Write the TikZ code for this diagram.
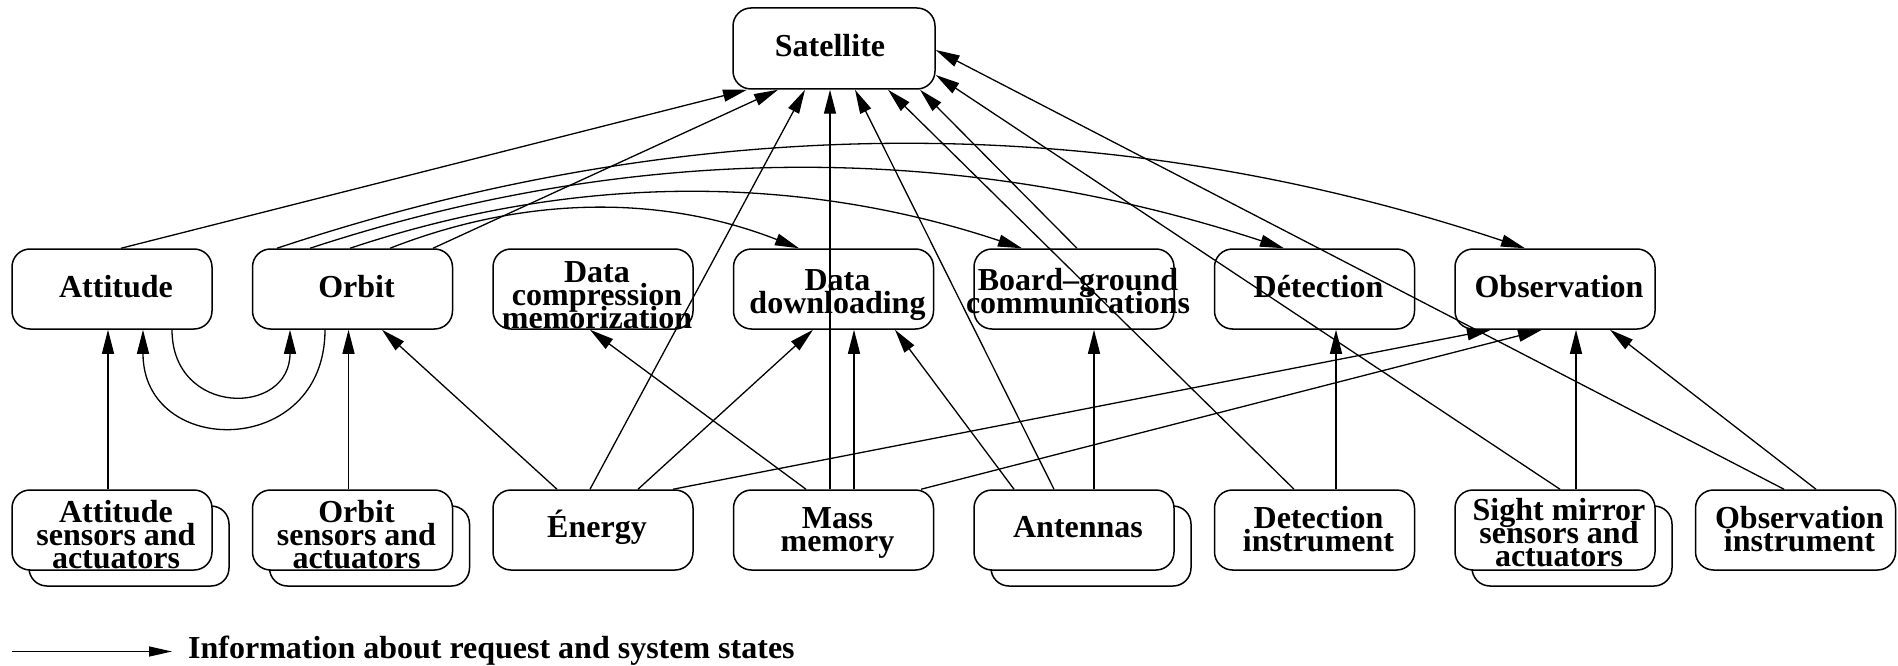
\documentclass[tikz,border=0pt]{standalone}
\usepackage{fontspec}
\setmainfont{Liberation Serif}
\usetikzlibrary{arrows.meta}
\newcommand\lns[1]{\vtop{\baselineskip=23pt\lineskiplimit=-1000pt\halign{\hfil##\hfil\cr#1\crcr}}}
\tikzset{
  box/.style={draw, fill=white, line width=1.5pt, rounded corners=18pt, minimum width=200pt, minimum height=80pt, inner sep=0pt},
  shadowbox/.style={box},
  txt/.style={anchor=base, inner sep=0pt, font=\fontsize{32}{23}\selectfont\bfseries},
  edge/.style={line width=1.3pt, -{Triangle[length=24pt,width=12pt]}},
  legarrow/.style={line width=1.3pt, -{Triangle[length=23pt,width=10pt]}}
}
\begin{document}
\begin{tikzpicture}[x=1pt,y=-1pt]
\useasboundingbox (0,0) rectangle (1898,666);
% top
\node[box, minimum width=202pt, minimum height=81pt] (sat) at (834,48.5) {};
\node[txt] (satT) at (830,57) {Satellite};
% middle row
\node[box] (att) at (112,289) {};
\node[txt] (attT) at (116,297) {Attitude};
\node[box] (orb) at (352.5,289) {};
\node[txt] (orbT) at (356.5,297) {Orbit};
\node[box] (dc) at (593,289) {};
\node[txt] (dcT) at (597,282) {\lns{Data\cr compression\cr memorization}};
\node[box] (dd) at (833.5,289) {};
\node[txt] (ddT) at (837.5,290) {\lns{Data\cr downloading}};
\node[box] (bg) at (1074,289) {};
\node[txt] (bgT) at (1078,290) {\lns{Board--ground\cr communications}};
\node[box] (det) at (1314.5,289) {};
\node[txt] (detT) at (1318.5,297) {Détection};
\node[box] (obs) at (1555,289) {};
\node[txt] (obsT) at (1559,297) {Observation};
% bottom row
\node[shadowbox] (attSsh) at (129,546) {};
\node[box] (attS) at (112,530) {};
\node[txt] (attST) at (116,522) {\lns{Attitude\cr sensors and\cr actuators}};
\node[shadowbox] (orbSsh) at (369.5,546) {};
\node[box] (orbS) at (352.5,530) {};
\node[txt] (orbST) at (356.5,522) {\lns{Orbit\cr sensors and\cr actuators}};
\node[box] (ene) at (593,530) {};
\node[txt] (eneT) at (597,537) {Énergy};
\node[box] (mass) at (833.5,530) {};
\node[txt] (massT) at (837.5,528) {\lns{Mass\cr memory}};
\node[shadowbox] (antsh) at (1091,546) {};
\node[box] (ant) at (1074,530) {};
\node[txt] (antT) at (1078,537) {Antennas};
\node[box] (detI) at (1314.5,530) {};
\node[txt] (detIT) at (1318.5,528) {\lns{Detection\cr instrument}};
\node[shadowbox] (smsh) at (1572,546) {};
\node[box] (sm) at (1555,530) {};
\node[txt] (smT) at (1559,520) {\lns{Sight mirror\cr sensors and\cr actuators}};
\node[box] (obI) at (1795.5,530) {};
\node[txt] (obIT) at (1799.5,528) {\lns{Observation\cr instrument}};
% edges to satellite
\draw[edge] ([xshift=9pt]att.north) -- ([xshift=-87pt]sat.south);
\draw[edge] ([xshift=80.5pt]orb.north) -- ([xshift=-56pt]sat.south);
\draw[edge] ([xshift=-3pt]ene.north) -- ([xshift=-29pt]sat.south);
\draw[edge] ([xshift=-3.5pt]mass.north) -- ([xshift=-4pt]sat.south);
\draw[edge] ([xshift=-20pt]ant.north) -- ([xshift=21pt]sat.south);
\draw[edge] ([xshift=-20.5pt]detI.north) -- ([xshift=54pt]sat.south);
\draw[edge] ([xshift=3pt]bg.north) -- ([xshift=86pt]sat.south);
\draw[edge] ([xshift=5pt]sm.north) -- ([yshift=-26.5pt]sat.east);
\draw[edge] ([xshift=-11.5pt]obI.north) -- ([yshift=-1.5pt]sat.east);
% edges bottom to middle
\draw[edge] ([xshift=45pt]ene.north) -- ([xshift=-20.5pt]dd.south);
\draw[edge] ([xshift=20.5pt]mass.north) -- ([xshift=20.5pt]dd.south);
\draw[edge] ([xshift=-60pt]ant.north) -- ([xshift=61.5pt]dd.south);
\draw[edge] ([xshift=-27.5pt]mass.north) -- ([xshift=-3pt]dc.south);
\draw[edge] ([xshift=-36pt]ene.north) -- ([xshift=29.5pt]orb.south);
\draw[edge] ([xshift=-4pt]orbS.north) -- ([xshift=-4pt]orb.south);
\draw[edge] ([xshift=-4pt]attS.north) -- ([xshift=-4pt]att.south);
\draw[edge] ([xshift=20pt]ant.north) -- ([xshift=20pt]bg.south);
\draw[edge] ([xshift=21.5pt]detI.north) -- ([xshift=21.5pt]det.south);
\draw[edge] ([xshift=21pt]sm.north) -- ([xshift=21pt]obs.south);
\draw[edge] ([xshift=20.5pt]obI.north) -- ([xshift=55pt]obs.south);
\draw[edge] ([xshift=80pt]ene.north) -- ([xshift=-64pt]obs.south);
\draw[edge] ([xshift=87.5pt]mass.north) -- ([xshift=-13pt]obs.south);
% curves between attitude and orbit
\draw[edge] ([xshift=60pt]att.south) .. controls +(0,87) and +(0,87) .. ([xshift=-62.5pt]orb.south);
\draw[edge] ([xshift=-27.5pt]orb.south) .. controls +(0,129) and +(0,129) .. ([xshift=31pt]att.south);
% arcs from orbit
\draw[edge] ([xshift=37.5pt]orb.north) .. controls +(136,-53.3) and +(-136,-53.3) .. ([xshift=-34.5pt]dd.north);
\draw[edge] ([xshift=-2.5pt]orb.north) .. controls +(224,-74.7) and +(-224,-74.7) .. ([xshift=-52pt]bg.north);
\draw[edge] ([xshift=-42.5pt]orb.north) .. controls +(325,-106.7) and +(-325,-106.7) .. ([xshift=-30.5pt]det.north);
\draw[edge] ([xshift=-75.5pt]orb.north) .. controls +(416,-138.7) and +(-416,-138.7) .. ([xshift=-30pt]obs.north);
% legend
\coordinate (legA) at (12,651.5);
\coordinate (legB) at (172,651.5);
\draw[legarrow] (legA) -- (legB);
\node[txt, anchor=base west] (legT) at (188,658) {Information about request and system states};
\end{tikzpicture}
\end{document}
